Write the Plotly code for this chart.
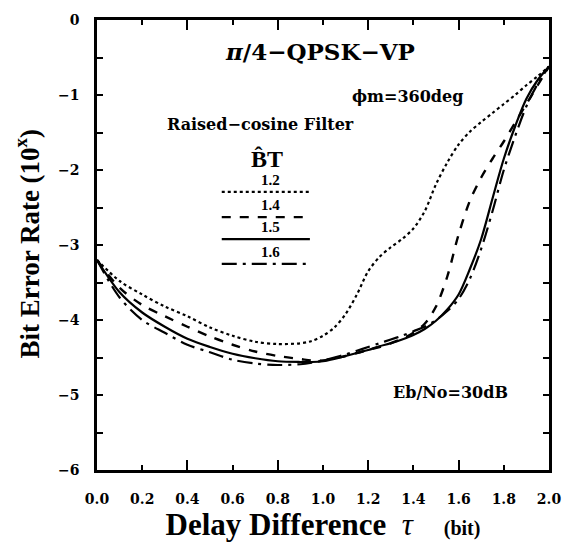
import plotly.graph_objects as go

# ---- data ----
tau = [0.0, 0.1, 0.2, 0.3, 0.4, 0.5, 0.6, 0.7, 0.8, 0.9,
       0.95, 1.0, 1.05, 1.1, 1.15, 1.2, 1.25, 1.3, 1.35, 1.4,
       1.45, 1.5, 1.55, 1.6, 1.65, 1.7, 1.75, 1.8, 1.85, 1.9, 1.95, 2.0]

ber_bt12 = [-3.20, -3.48, -3.66, -3.82, -3.95, -4.10, -4.21, -4.29, -4.32, -4.31,
            -4.28, -4.21, -4.10, -3.92, -3.66, -3.35, -3.16, -3.03, -2.92, -2.78,
            -2.55, -2.19, -1.90, -1.66, -1.49, -1.36, -1.24, -1.12, -1.00, -0.87, -0.75, -0.62]

ber_bt14 = [-3.20, -3.57, -3.80, -3.95, -4.09, -4.22, -4.33, -4.42, -4.48, -4.52,
            -4.54, -4.54, -4.51, -4.48, -4.44, -4.40, -4.36, -4.31, -4.25, -4.17,
            -4.05, -3.82, -3.42, -2.86, -2.41, -2.10, -1.85, -1.62, -1.37, -1.12, -0.87, -0.62]

ber_bt15 = [-3.20, -3.63, -3.90, -4.09, -4.25, -4.36, -4.45, -4.51, -4.55, -4.56,
            -4.56, -4.55, -4.52, -4.48, -4.44, -4.40, -4.35, -4.31, -4.26, -4.20,
            -4.12, -4.01, -3.86, -3.66, -3.32, -2.92, -2.38, -1.85, -1.42, -1.05, -0.80, -0.62]

ber_bt16 = [-3.20, -3.70, -4.00, -4.17, -4.33, -4.43, -4.53, -4.58, -4.60, -4.59,
            -4.57, -4.54, -4.50, -4.46, -4.41, -4.36, -4.31, -4.26, -4.21, -4.15,
            -4.09, -4.00, -3.88, -3.72, -3.45, -3.05, -2.55, -2.00, -1.55, -1.15, -0.85, -0.62]

bt_labels = ["1.2", "1.4", "1.5", "1.6"]
series = [ber_bt12, ber_bt14, ber_bt15, ber_bt16]
dashes = ["dot", "dash", "solid", "longdashdot"]
widths = [2.2, 2.4, 2.2, 2.2]

x_ticks = [0.0, 0.2, 0.4, 0.6, 0.8, 1.0, 1.2, 1.4, 1.6, 1.8, 2.0]
x_ticktext = ["0.0", "0.2", "0.4", "0.6", "0.8", "1.0", "1.2", "1.4", "1.6", "1.8", "2.0"]
x_long_ticks = [0.0, 0.4, 0.8, 1.2, 1.6, 2.0]
y_ticks = [0, -1, -2, -3, -4, -5, -6]
y_ticktext = ["0", "−1", "−2", "−3", "−4", "−5", "−6"]

SERIF = "Liberation Serif"
WIDE = "DejaVu Serif"

fig = go.Figure()
for lab, ys, d, w in zip(bt_labels, series, dashes, widths):
    fig.add_trace(go.Scatter(
        x=tau, y=ys, mode="lines", name=lab,
        line=dict(color="black", dash=d, width=w, shape="spline", smoothing=0.9),
        showlegend=False,
    ))

# invisible trace for the overlay axis carrying the long ticks
fig.add_trace(go.Scatter(x=[tau[0], tau[-1]], y=[ber_bt12[0], ber_bt12[-1]],
                         xaxis="x2", mode="lines", line=dict(width=0),
                         showlegend=False, hoverinfo="skip"))

fig.update_layout(
    width=573, height=542,
    margin=dict(l=97, r=20, t=18, b=72),
    paper_bgcolor="white", plot_bgcolor="white",
    font=dict(family=SERIF, color="black"),
    xaxis=dict(
        range=[0, 2.0], tickvals=x_ticks, ticktext=x_ticktext,
        ticks="inside", ticklen=5, tickwidth=1.5, tickcolor="black",
        showline=True, linewidth=2.5, linecolor="black", mirror="ticks",
        showgrid=False, zeroline=False,
        tickfont=dict(family=WIDE, size=14, weight="bold"),
        ticklabelstandoff=14,
        title=dict(
            text="<b>Delay Difference</b>  <i>τ</i>    <b><span style='font-size:20px'>(bit)</span></b>",
            font=dict(family=SERIF, size=31), standoff=0),
    ),
    xaxis2=dict(
        range=[0, 2.0], overlaying="x", anchor="y", side="bottom",
        tickvals=x_long_ticks, ticks="inside", ticklen=10, tickwidth=1.5,
        tickcolor="black", showticklabels=False, showline=False,
        mirror="ticks", showgrid=False, zeroline=False,
    ),
    yaxis=dict(
        range=[-6, 0], tickvals=y_ticks, ticktext=y_ticktext,
        ticks="inside", ticklen=6, tickwidth=1.5, tickcolor="black",
        minor=dict(dtick=0.5, ticks="inside", ticklen=6, tickwidth=1.5, tickcolor="black"),
        showline=True, linewidth=2.5, linecolor="black", mirror="ticks",
        showgrid=False, zeroline=False,
        tickfont=dict(family=WIDE, size=14, weight="bold"),
        ticklabelstandoff=12,
    ),
)

# text annotations (explicit centre anchoring)
def note(x, y, text, family, size, angle=0):
    fig.add_annotation(x=x, y=y, xref="paper", yref="paper", showarrow=False,
                       xanchor="center", yanchor="middle", textangle=angle,
                       text=text, font=dict(family=family, size=size))

# y-axis title
note(-0.154, 0.504, "<b>Bit Error Rate (10<sup>x</sup>)</b>", SERIF, 27, angle=-90)

note(0.493, 0.929, "<b><i>π</i>/4−QPSK−VP</b>", WIDE, 23)
note(0.686, 0.830, "<b>ϕm=360deg</b>", WIDE, 16)
note(0.362, 0.768, "<b>Raised−cosine Filter</b>", WIDE, 16)
note(0.375, 0.692, "<b>B̂T</b>", SERIF, 24)
note(0.781, 0.173, "<b>Eb/No=30dB</b>", WIDE, 16)

# custom legend: label above each line sample
leg_label_y = [0.644, 0.588, 0.539, 0.484]
leg_line_y = [0.618, 0.562, 0.513, 0.458]
for lab, d, w, ly, ty in zip(bt_labels, dashes, widths, leg_line_y, leg_label_y):
    fig.add_shape(type="line", xref="paper", yref="paper",
                  x0=0.276, x1=0.471, y0=ly, y1=ly,
                  line=dict(color="black", dash=d, width=w))
    note(0.384, ty, f"<b>{lab}</b>", SERIF, 15)

fig.write_html("out.html")
